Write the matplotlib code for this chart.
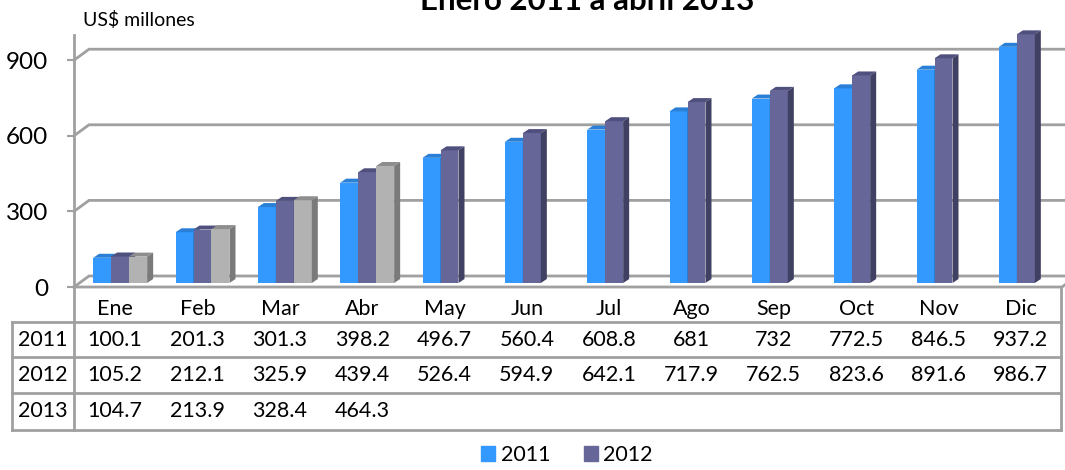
import matplotlib
matplotlib.use("Agg")
import matplotlib.pyplot as plt
import numpy as np
from matplotlib.patches import Polygon, Patch
from matplotlib.transforms import offset_copy, blended_transform_factory

plt.rcParams['font.family'] = ['Lato', 'DejaVu Sans']

months = ['Ene', 'Feb', 'Mar', 'Abr', 'May', 'Jun', 'Jul', 'Ago', 'Sep', 'Oct', 'Nov', 'Dic']
v2011 = [100.1, 201.3, 301.3, 398.2, 496.7, 560.4, 608.8, 681, 732, 772.5, 846.5, 937.2]
v2012 = [105.2, 212.1, 325.9, 439.4, 526.4, 594.9, 642.1, 717.9, 762.5, 823.6, 891.6, 986.7]
v2013 = [104.7, 213.9, 328.4, 464.3]
series_names = ['2011', '2012', '2013']
series_vals = [v2011, v2012, v2013]
yticks = [0, 300, 600, 900]

front_cols = ['#3399FF', '#666699', '#B2B2B2']
top_cols = ['#2A80D6', '#50507E', '#8E8E8E']
side_cols = ['#1F63A8', '#404062', '#7A7A7A']
GRID = '#A0A0A0'

W, H = 1065, 470
fig = plt.figure(figsize=(W / 100, H / 100), dpi=100)


def fy(px):
    return 1 - px / H


def fx(px):
    return px / W


ax = fig.add_axes([fx(74), fy(287), fx(1062) - fx(74), fy(35) - fy(287)])
ax.set_xlim(-0.5, 11.5)
ax.set_ylim(0, 1000)
for s in ax.spines.values():
    s.set_visible(False)
ax.set_xticks([])
ax.set_yticks(yticks)
ax.set_yticklabels([str(t) for t in yticks])
ax.tick_params(axis='y', length=5, width=1.5, color=GRID, pad=13.5, labelsize=17.5)

fig.canvas.draw()


def off(x, y, dx, dy):
    p = ax.transData.transform((x, y)) + np.array([dx, dy])
    return ax.transData.inverted().transform(p)


# wall depth and bar plane offsets (pixels)
WD = (15, 11)
BP = (5, 4)
BD = (6, 4)

# back wall gridlines with diagonal from the front axis
for t in yticks:
    p0 = (-0.5, t)
    p1 = off(-0.5, t, *WD)
    p2 = off(11.5, t, WD[0] + 20, WD[1])
    ax.plot([p0[0], p1[0], p2[0]], [p0[1], p1[1], p2[1]], color=GRID, lw=2,
            clip_on=False, zorder=1, solid_joinstyle='miter')

# front floor line with right diagonal
pr = off(11.5, 0, *WD)
ax.plot([-0.5, 11.5, pr[0]], [0, 0, pr[1]], color=GRID, lw=2, clip_on=False, zorder=2)

# bars
w = 0.2185
x = np.arange(len(months))
bar_tr = offset_copy(ax.transData, fig=fig, x=BP[0], y=BP[1], units='dots')
for k, vals in enumerate(series_vals):
    xs = x[:len(vals)] + (k - 1) * w
    ax.bar(xs, vals, width=w, color=front_cols[k], transform=bar_tr,
           clip_on=False, zorder=5 + k, linewidth=0)
    for xc, v in zip(xs, vals):
        x0, x1 = xc - w / 2, xc + w / 2
        top = [off(x0, v, *BP), off(x1, v, *BP),
               off(x1, v, BP[0] + BD[0], BP[1] + BD[1]),
               off(x0, v, BP[0] + BD[0], BP[1] + BD[1])]
        side = [off(x1, v, *BP), off(x1, v, BP[0] + BD[0], BP[1] + BD[1]),
                off(x1, 0, BP[0] + BD[0], BP[1] + BD[1]), off(x1, 0, *BP)]
        ax.add_patch(Polygon(top, closed=True, color=top_cols[k], lw=0,
                             clip_on=False, zorder=5 + k))
        ax.add_patch(Polygon(side, closed=True, color=side_cols[k], lw=0,
                             clip_on=False, zorder=5 + k))

# axis line extending into the table
fig.add_artist(plt.Line2D([fx(74), fx(74)], [fy(35), fy(430)], color=GRID, lw=2))

# data table
row_lines = [322, 357, 393, 430]
for yl in row_lines:
    fig.add_artist(plt.Line2D([fx(12), fx(1061)], [fy(yl), fy(yl)], color=GRID, lw=2))
fig.add_artist(plt.Line2D([fx(12), fx(12)], [fy(322), fy(430)], color=GRID, lw=2))
fig.add_artist(plt.Line2D([fx(1061), fx(1061)], [fy(287), fy(430)], color=GRID, lw=2))

bt = blended_transform_factory(ax.transData, fig.transFigure)
TFS = 15.5
for i, m in enumerate(months):
    ax.text(i, fy(309), m, transform=bt, ha='center', va='center', fontsize=TFS, clip_on=False)
row_centers = [340, 375, 411]
for k, vals in enumerate(series_vals):
    fig.text(fx(43), fy(row_centers[k]), series_names[k], ha='center', va='center', fontsize=TFS)
    for i, v in enumerate(vals):
        ax.text(i, fy(row_centers[k]), f'{v:g}', transform=bt, ha='center', va='center',
                fontsize=TFS, clip_on=False)

# axis unit label and title
fig.text(fx(83), fy(26), 'US$ millones', ha='left', va='baseline', fontsize=14)
fig.text(fx(587), fy(10), 'Enero 2011 a abril 2013', ha='center', va='baseline',
         fontsize=22.5, fontweight='bold')

# legend
handles = [Patch(color=front_cols[0]), Patch(color=front_cols[1])]
fig.legend(handles, series_names[:2], loc='center', bbox_to_anchor=(fx(567), fy(455)),
           ncol=2, frameon=False, fontsize=15.5, handlelength=0.65, handleheight=0.65,
           handletextpad=0.25, columnspacing=1.55, borderpad=0)

fig.savefig('out.png', dpi=100)
